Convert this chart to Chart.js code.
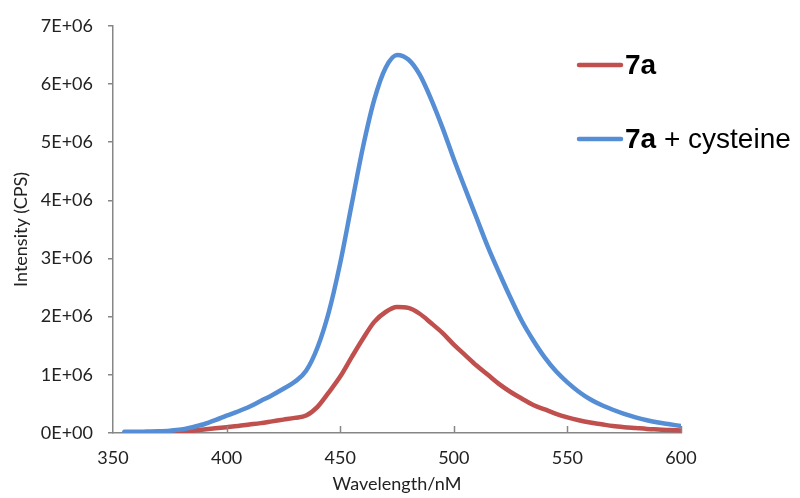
<!DOCTYPE html>
<html>
<head>
<meta charset="utf-8">
<script src="https://cdn.jsdelivr.net/npm/chart.js@4/dist/chart.umd.min.js"></script>
<style>
html,body{margin:0;padding:0;background:#fff;}
#c{display:block;}
</style>
</head>
<body>
<canvas id="c" width="800" height="498"></canvas>
<script>
// Wavelength (nm)
const wavelengths = [355,360,365,370,375,380,385,390,395,400,405,410,415,420,425,430,435,440,445,450,455,460,465,470,475,480,485,490,495,500,505,510,515,520,525,530,535,540,545,550,555,560,565,570,575,580,585,590,595,600];
// Intensity (CPS), 7a
const series7a = [0,0,0,0,10000,20000,40000,60000,80000,100000,120000,145000,170000,200000,230000,260000,300000,450000,700000,970000,1300000,1620000,1910000,2080000,2165000,2150000,2050000,1890000,1720000,1520000,1340000,1160000,1000000,840000,705000,590000,480000,405000,330000,270000,220000,180000,150000,120000,100000,85000,70000,60000,50000,45000];
// Intensity (CPS), 7a + cysteine
const series7aCys = [20000,20000,25000,30000,40000,60000,100000,150000,220000,300000,370000,450000,550000,650000,760000,880000,1070000,1470000,2080000,2920000,3920000,4910000,5730000,6280000,6500000,6420000,6160000,5740000,5250000,4710000,4200000,3700000,3200000,2750000,2320000,1920000,1590000,1300000,1060000,870000,710000,580000,480000,400000,330000,270000,220000,180000,150000,120000];
const xTicks = [350,400,450,500,550,600];
const yTicks = [0,1000000,2000000,3000000,4000000,5000000,6000000,7000000];
const legendBold = ['7a','7a'];
const legendRest = ['',' + cysteine'];

const RED = '#C0504D', BLUE = '#558ED5', AXIS = '#868686';

function fmtExp(v){
  const s = Number(v).toExponential(0).split('e');
  const exp = parseInt(s[1],10);
  const sign = exp < 0 ? '-' : '+';
  const a = Math.abs(exp);
  return s[0] + 'E' + sign + (a < 10 ? '0' + a : a);
}

const innerTicks = {
  id: 'innerTicks',
  afterDatasetsDraw(chart){
    const ctx = chart.ctx, xs = chart.scales.x, ca = chart.chartArea;
    ctx.save();
    ctx.strokeStyle = AXIS; ctx.lineWidth = 1.5;
    xTicks.forEach(t => {
      if (t === 350) return;
      const px = Math.round(xs.getPixelForValue(t)) + 0.5;
      ctx.beginPath(); ctx.moveTo(px, ca.bottom); ctx.lineTo(px, ca.bottom - 7); ctx.stroke();
    });
    ctx.restore();
  }
};

const customLegend = {
  id: 'customLegend',
  afterDraw(chart){
    const ctx = chart.ctx;
    const ys = [65, 139];
    const colors = [RED, BLUE];
    ctx.save();
    for (let i = 0; i < 2; i++){
      const y = ys[i];
      ctx.strokeStyle = colors[i]; ctx.lineWidth = 4.5; ctx.lineCap = 'round';
      ctx.beginPath(); ctx.moveTo(579, y); ctx.lineTo(621, y); ctx.stroke();
      ctx.fillStyle = '#000'; ctx.textBaseline = 'alphabetic'; ctx.textAlign = 'left';
      ctx.font = 'bold 28px "Liberation Sans", Arial, sans-serif';
      ctx.fillText(legendBold[i], 625, y + 9);
      const w = ctx.measureText(legendBold[i]).width;
      ctx.font = '28px "Liberation Sans", Arial, sans-serif';
      ctx.fillText(legendRest[i], 625 + w, y + 9);
    }
    ctx.restore();
  }
};

const tickFont = {family: 'Lato, "Open Sans", sans-serif', size: 18, lineHeight: 1.2};

new Chart(document.getElementById('c'), {
  type: 'line',
  data: {
    datasets: [
      {label: '7a + cysteine', data: wavelengths.map((w,i)=>({x:w, y:series7aCys[i]})), borderColor: BLUE, borderWidth: 4.5, pointRadius: 0, tension: 0.4, cubicInterpolationMode: 'monotone', fill: false, order: 0, borderCapStyle: 'round', borderJoinStyle: 'round'},
      {label: '7a', data: wavelengths.map((w,i)=>({x:w, y:series7a[i]})), borderColor: RED, borderWidth: 4.5, pointRadius: 0, tension: 0.4, cubicInterpolationMode: 'monotone', fill: false, order: 1, borderCapStyle: 'round', borderJoinStyle: 'round'}
    ]
  },
  options: {
    responsive: false,
    animation: false,
    layout: {padding: {left: 0, right: 119, top: 24, bottom: 0}},
    plugins: {legend: {display: false}, tooltip: {enabled: false}},
    scales: {
      x: {
        type: 'linear', min: 350, max: 600,
        afterBuildTicks: s => { s.ticks = xTicks.map(v => ({value: v})); },
        afterFit: s => { s.height = 65; },
        grid: {display: true, drawOnChartArea: false, drawTicks: false},
        border: {display: true, color: AXIS, width: 1.5},
        ticks: {color: '#222', font: tickFont, padding: 14, maxRotation: 0, autoSkip: false},
        title: {display: true, text: 'Wavelength/nM', color: '#222', font: tickFont, padding: {top: 0, bottom: 3}}
      },
      y: {
        type: 'linear', min: 0, max: 7000000,
        afterBuildTicks: s => { s.ticks = yTicks.map(v => ({value: v})); },
        afterFit: s => { s.width = 113; },
        grid: {display: true, drawOnChartArea: false, drawTicks: true, tickLength: 5, color: AXIS, lineWidth: 1.5},
        border: {display: true, color: AXIS, width: 1.5},
        ticks: {color: '#222', font: tickFont, padding: 15, callback: v => fmtExp(v)},
        title: {display: true, text: 'Intensity (CPS)', color: '#222', font: tickFont, padding: {top: 10, bottom: 0}}
      }
    }
  },
  plugins: [innerTicks, customLegend]
});
</script>
</body>
</html>
